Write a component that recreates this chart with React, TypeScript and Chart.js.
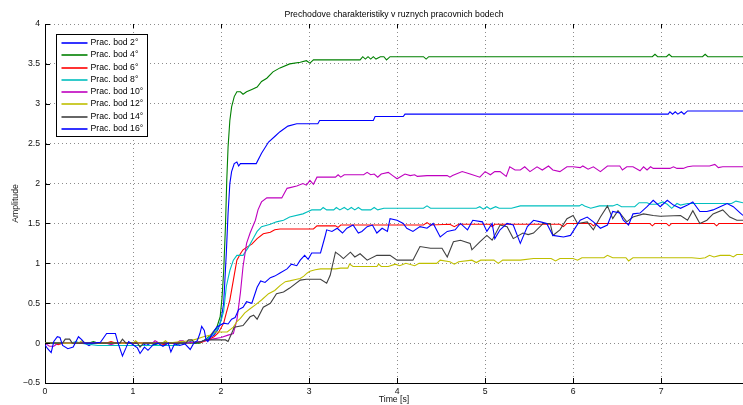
import React, { useEffect, useRef } from 'react';
import { Chart, registerables } from 'chart.js';

Chart.register(...registerables);

const TITLE = 'Prechodove charakteristiky v ruznych pracovnich bodech';
const X_LABEL = 'Time [s]';
const Y_LABEL = 'Amplitude';
const X_TICKS = [0, 1, 2, 3, 4, 5, 6, 7];
const Y_TICKS = [-0.5, 0, 0.5, 1, 1.5, 2, 2.5, 3, 3.5, 4];
const X_MIN = 0;
const X_MAX = 7.93;
const Y_MIN = -0.5;
const Y_MAX = 4;

const SERIES_LABELS = [
  'Prac. bod 2°',
  'Prac. bod 4°',
  'Prac. bod 6°',
  'Prac. bod 8°',
  'Prac. bod 10°',
  'Prac. bod 12°',
  'Prac. bod 14°',
  'Prac. bod 16°',
];
const SERIES_COLORS = ['#0000ff', '#008000', '#ff0000', '#00bfbf', '#bf00bf', '#bfbf00', '#404040', '#0000ff'];

// [time, amplitude]
const bod2: number[][] = [
  [0, 0], [0.45, 0], [0.5, -0.03], [0.55, 0], [1.1, 0], [1.15, -0.03], [1.2, 0], [1.6, 0], [1.65, 0.02], [1.7, 0],
  [1.78, 0.02], [1.85, 0.05], [1.92, 0.1], [1.97, 0.18], [2.0, 0.29], [2.03, 0.5], [2.06, 1.13], [2.08, 1.63],
  [2.1, 2.0], [2.12, 2.15], [2.15, 2.25], [2.18, 2.27], [2.2, 2.22], [2.22, 2.25], [2.4, 2.25], [2.46, 2.38],
  [2.54, 2.52], [2.61, 2.59], [2.67, 2.65], [2.76, 2.72], [2.86, 2.75], [3.1, 2.75], [3.12, 2.79], [3.73, 2.79],
  [3.75, 2.84], [4.07, 2.84], [4.09, 2.87], [7.08, 2.87], [7.1, 2.9], [7.13, 2.87], [7.16, 2.9], [7.19, 2.87],
  [7.23, 2.9], [7.26, 2.87], [7.3, 2.91], [7.93, 2.91],
];

const bod4: number[][] = [
  [0, 0], [0.5, 0], [0.55, 0.02], [0.6, 0], [1.2, 0], [1.25, -0.02], [1.3, 0], [1.76, 0], [1.82, 0.04], [1.88, 0.1],
  [1.95, 0.19], [1.99, 0.33], [2.01, 0.55], [2.03, 0.9], [2.05, 1.46], [2.065, 2.04], [2.08, 2.46], [2.1, 2.79],
  [2.12, 2.96], [2.15, 3.09], [2.18, 3.15], [2.22, 3.15], [2.25, 3.12], [2.29, 3.15], [2.35, 3.18], [2.41, 3.21],
  [2.46, 3.28], [2.52, 3.32], [2.59, 3.4], [2.67, 3.45], [2.78, 3.5], [2.9, 3.52], [2.97, 3.54], [3.01, 3.51],
  [3.05, 3.55], [3.58, 3.55], [3.61, 3.59], [3.64, 3.56], [3.67, 3.59], [3.7, 3.56], [3.73, 3.59], [3.76, 3.56],
  [3.81, 3.59], [3.85, 3.59], [3.88, 3.55], [3.92, 3.59], [4.3, 3.59], [4.33, 3.56], [4.36, 3.59], [6.9, 3.59],
  [6.93, 3.62], [6.96, 3.59], [7.06, 3.59], [7.09, 3.62], [7.12, 3.59], [7.47, 3.59], [7.5, 3.62], [7.53, 3.59],
  [7.93, 3.59],
];

const bod6: number[][] = [
  [0, 0], [0.1, 0], [0.15, -0.02], [0.2, 0], [0.7, 0], [0.75, 0.02], [0.8, 0], [1.3, 0], [1.35, -0.02], [1.4, 0],
  [1.78, 0.01], [1.85, 0.04], [1.92, 0.08], [1.97, 0.13], [2.03, 0.25], [2.06, 0.38], [2.1, 0.54], [2.14, 0.79],
  [2.18, 1.04], [2.22, 1.12], [2.25, 1.17], [2.29, 1.2], [2.35, 1.24], [2.41, 1.31], [2.48, 1.37], [2.56, 1.39],
  [2.61, 1.42], [2.67, 1.43], [3.05, 1.43], [3.09, 1.47], [3.3, 1.47], [3.33, 1.45], [3.36, 1.48], [4.3, 1.48],
  [4.34, 1.51], [4.38, 1.48], [4.6, 1.49], [4.65, 1.46], [4.7, 1.49], [5.05, 1.49], [5.08, 1.46], [5.11, 1.49],
  [5.85, 1.49], [5.89, 1.46], [5.93, 1.5], [6.2, 1.5], [6.23, 1.47], [6.26, 1.5], [6.87, 1.5], [6.9, 1.47],
  [6.93, 1.5], [7.06, 1.5], [7.09, 1.47], [7.12, 1.5], [7.6, 1.5], [7.63, 1.47], [7.66, 1.5], [7.93, 1.5],
];

const bod8: number[][] = [
  [0, 0], [0.3, 0], [0.35, 0.02], [0.4, 0], [0.6, -0.03], [1.5, -0.03], [1.55, 0], [1.78, 0.02], [1.85, 0.06],
  [1.92, 0.12], [1.97, 0.2], [2.0, 0.28], [2.03, 0.4], [2.06, 0.71], [2.1, 0.91], [2.14, 1.04], [2.18, 1.1],
  [2.25, 1.1], [2.31, 1.2], [2.37, 1.32], [2.41, 1.4], [2.46, 1.46], [2.56, 1.49], [2.63, 1.52], [2.71, 1.54],
  [2.78, 1.58], [2.93, 1.62], [2.99, 1.65], [3.03, 1.67], [3.13, 1.67], [3.16, 1.7], [3.2, 1.67], [3.28, 1.67],
  [3.31, 1.7], [3.35, 1.67], [3.4, 1.7], [3.44, 1.67], [3.48, 1.7], [3.52, 1.67], [3.56, 1.7], [3.6, 1.67],
  [3.7, 1.67], [3.74, 1.7], [3.78, 1.67], [3.85, 1.69], [4.3, 1.69], [4.34, 1.72], [4.38, 1.69], [4.9, 1.69],
  [4.94, 1.71], [4.98, 1.68], [5.02, 1.71], [5.06, 1.68], [5.12, 1.71], [5.16, 1.69], [5.3, 1.69], [5.4, 1.72],
  [6.07, 1.72], [6.1, 1.74], [6.13, 1.72], [6.2, 1.69], [6.3, 1.72], [6.45, 1.72], [6.5, 1.74], [6.55, 1.71],
  [6.7, 1.71], [6.75, 1.76], [6.84, 1.76], [6.88, 1.74], [6.95, 1.74], [7.02, 1.77], [7.07, 1.74], [7.12, 1.69],
  [7.18, 1.75], [7.22, 1.73], [7.3, 1.75], [7.8, 1.75], [7.85, 1.78], [7.93, 1.76],
];

const bod10: number[][] = [
  [0, 0], [0.05, -0.04], [0.1, -0.04], [0.15, 0], [0.7, 0], [0.75, -0.02], [0.8, 0], [1.22, 0], [1.25, 0.03],
  [1.3, 0], [1.5, 0], [1.53, 0.03], [1.57, 0.03], [1.6, 0], [1.78, 0.02], [1.9, 0.05], [2.0, 0.07], [2.08, 0.1],
  [2.14, 0.12], [2.18, 0.29], [2.22, 0.63], [2.25, 0.96], [2.29, 1.25], [2.33, 1.38], [2.39, 1.54], [2.42, 1.67],
  [2.46, 1.77], [2.52, 1.82], [2.69, 1.82], [2.75, 1.94], [2.86, 1.97], [2.93, 2.0], [2.97, 1.98], [3.01, 2.04],
  [3.05, 1.99], [3.09, 2.08], [3.3, 2.08], [3.33, 2.11], [3.36, 2.08], [3.4, 2.11], [3.62, 2.11], [3.66, 2.14],
  [3.7, 2.11], [3.74, 2.12], [3.78, 2.08], [3.82, 2.12], [3.9, 2.14], [3.95, 2.1], [4.0, 2.06], [4.09, 2.12],
  [4.15, 2.1], [4.2, 2.11], [4.23, 2.09], [4.34, 2.1], [4.57, 2.1], [4.6, 2.08], [4.63, 2.1], [4.74, 2.15],
  [4.83, 2.12], [4.94, 2.08], [5.0, 2.15], [5.06, 2.11], [5.11, 2.15], [5.17, 2.15], [5.24, 2.09], [5.28, 2.21],
  [5.34, 2.17], [5.4, 2.17], [5.45, 2.21], [5.51, 2.15], [5.59, 2.21], [5.65, 2.17], [5.72, 2.22], [5.77, 2.17],
  [5.85, 2.15], [5.93, 2.21], [6.0, 2.21], [6.08, 2.2], [6.11, 2.22], [6.17, 2.18], [6.23, 2.21], [6.31, 2.15],
  [6.39, 2.22], [6.53, 2.22], [6.56, 2.17], [6.61, 2.21], [6.68, 2.21], [6.76, 2.16], [6.8, 2.21], [6.84, 2.17],
  [6.88, 2.21], [6.91, 2.19], [7.1, 2.19], [7.14, 2.21], [7.18, 2.19], [7.25, 2.19], [7.3, 2.21], [7.36, 2.22],
  [7.55, 2.22], [7.61, 2.24], [7.65, 2.2], [7.7, 2.21], [7.93, 2.21],
];

const bod12: number[][] = [
  [0, 0], [0.38, 0], [0.42, 0.03], [0.46, 0], [1.0, 0], [1.03, 0.03], [1.06, 0], [1.33, 0], [1.37, 0.03], [1.4, 0],
  [1.55, 0.02], [1.65, 0.03], [1.72, 0.05], [1.8, 0.08], [1.88, 0.1], [1.91, 0.14], [2.07, 0.14], [2.14, 0.2],
  [2.18, 0.27], [2.22, 0.31], [2.27, 0.38], [2.33, 0.43], [2.39, 0.48], [2.46, 0.54], [2.54, 0.62], [2.61, 0.66],
  [2.67, 0.72], [2.73, 0.77], [2.78, 0.78], [2.86, 0.8], [2.9, 0.81], [2.94, 0.84], [2.98, 0.88], [3.01, 0.9],
  [3.07, 0.92], [3.13, 0.93], [3.3, 0.93], [3.36, 0.94], [3.44, 0.94], [3.46, 0.99], [3.5, 0.96], [3.77, 0.96],
  [3.79, 0.99], [3.82, 0.96], [3.9, 0.96], [3.98, 0.99], [4.03, 0.97], [4.1, 1.0], [4.2, 0.97], [4.25, 1.0],
  [4.45, 1.0], [4.49, 1.04], [4.6, 1.02], [4.65, 0.99], [4.7, 1.02], [4.85, 1.04], [4.9, 1.01], [4.95, 1.04],
  [5.1, 1.04], [5.15, 1.0], [5.2, 1.04], [5.4, 1.04], [5.55, 1.06], [5.75, 1.06], [5.8, 1.03], [5.85, 1.06],
  [6.0, 1.06], [6.05, 1.04], [6.1, 1.07], [6.35, 1.07], [6.39, 1.1], [6.45, 1.07], [6.6, 1.07], [6.63, 1.03],
  [6.68, 1.07], [7.35, 1.07], [7.44, 1.06], [7.5, 1.07], [7.55, 1.1], [7.6, 1.08], [7.67, 1.1], [7.78, 1.1],
  [7.82, 1.08], [7.86, 1.11], [7.93, 1.11],
];

const bod14: number[][] = [
  [0, 0], [0.2, 0], [0.23, 0.05], [0.28, 0.05], [0.31, 0], [0.85, 0], [0.88, 0.05], [0.92, 0], [1.05, 0],
  [1.08, -0.05], [1.12, 0], [1.6, 0], [1.63, 0.04], [1.67, 0.04], [1.7, 0], [1.78, 0.02], [1.82, 0.04],
  [2.05, 0.04], [2.08, 0.02], [2.12, 0.12], [2.15, 0.2], [2.25, 0.22], [2.33, 0.33], [2.37, 0.35], [2.41, 0.3],
  [2.48, 0.45], [2.56, 0.5], [2.63, 0.62], [2.71, 0.64], [2.78, 0.69], [2.9, 0.79], [2.97, 0.8], [3.13, 0.8],
  [3.2, 0.75], [3.24, 0.85], [3.3, 1.14], [3.35, 1.1], [3.39, 1.06], [3.47, 1.14], [3.52, 1.08], [3.58, 1.12],
  [3.66, 1.04], [3.77, 1.1], [3.92, 1.1], [4.0, 1.04], [4.18, 1.04], [4.26, 1.21], [4.38, 1.19], [4.51, 1.19],
  [4.57, 1.08], [4.64, 1.27], [4.72, 1.29], [4.83, 1.25], [4.85, 1.17], [4.94, 1.27], [5.02, 1.35], [5.08, 1.29],
  [5.17, 1.48], [5.25, 1.46], [5.32, 1.31], [5.43, 1.38], [5.49, 1.36], [5.55, 1.38], [5.66, 1.5], [5.74, 1.5],
  [5.77, 1.35], [5.85, 1.42], [5.93, 1.56], [6.0, 1.6], [6.05, 1.5], [6.16, 1.52], [6.23, 1.42], [6.31, 1.58],
  [6.39, 1.72], [6.45, 1.56], [6.51, 1.66], [6.61, 1.52], [6.68, 1.58], [6.8, 1.62], [6.91, 1.6], [6.99, 1.59],
  [7.22, 1.6], [7.3, 1.54], [7.36, 1.66], [7.44, 1.5], [7.52, 1.54], [7.59, 1.62], [7.7, 1.67], [7.78, 1.58],
  [7.86, 1.54], [7.93, 1.54],
];

const bod16: number[][] = [
  [0, -0.02], [0.03, -0.07], [0.07, -0.12], [0.1, 0.02], [0.14, 0.08], [0.17, 0.07], [0.2, -0.03], [0.26, -0.07],
  [0.32, -0.05], [0.38, 0.08], [0.42, 0.04], [0.45, 0.0], [0.55, 0.0], [0.63, 0.01], [0.7, 0.12], [0.8, 0.12],
  [0.83, 0.0], [0.88, -0.16], [0.92, -0.06], [0.95, 0.02], [1.0, -0.02], [1.05, -0.06], [1.08, -0.13],
  [1.13, -0.05], [1.17, -0.09], [1.23, -0.02], [1.28, 0.0], [1.34, -0.04], [1.4, 0.0], [1.43, -0.11],
  [1.47, -0.01], [1.53, -0.03], [1.59, -0.01], [1.65, -0.08], [1.69, 0.0], [1.73, 0.03], [1.76, 0.12],
  [1.78, 0.21], [1.81, 0.16], [1.83, 0.04], [1.85, 0.02], [1.89, 0.1], [1.95, 0.2], [2.03, 0.25], [2.08, 0.24],
  [2.12, 0.3], [2.16, 0.32], [2.2, 0.42], [2.25, 0.45], [2.29, 0.52], [2.35, 0.5], [2.41, 0.7], [2.45, 0.78],
  [2.5, 0.76], [2.56, 0.82], [2.61, 0.84], [2.67, 0.88], [2.75, 0.93], [2.8, 0.99], [2.86, 0.97], [2.9, 1.04],
  [2.95, 1.1], [2.99, 1.05], [3.03, 1.13], [3.13, 1.13], [3.18, 1.33], [3.2, 1.42], [3.26, 1.4], [3.32, 1.44],
  [3.38, 1.38], [3.43, 1.44], [3.5, 1.48], [3.56, 1.38], [3.6, 1.4], [3.66, 1.46], [3.72, 1.48], [3.77, 1.38],
  [3.83, 1.44], [3.89, 1.4], [3.92, 1.56], [4.0, 1.54], [4.07, 1.5], [4.11, 1.44], [4.18, 1.4], [4.26, 1.46],
  [4.34, 1.44], [4.41, 1.5], [4.49, 1.33], [4.57, 1.4], [4.66, 1.42], [4.72, 1.5], [4.8, 1.42], [4.86, 1.54],
  [4.97, 1.52], [5.02, 1.4], [5.08, 1.5], [5.11, 1.31], [5.17, 1.42], [5.25, 1.5], [5.32, 1.48], [5.4, 1.25],
  [5.48, 1.46], [5.55, 1.54], [5.63, 1.52], [5.7, 1.5], [5.77, 1.35], [5.89, 1.33], [5.97, 1.35], [6.08, 1.54],
  [6.16, 1.58], [6.23, 1.52], [6.31, 1.44], [6.39, 1.48], [6.45, 1.65], [6.53, 1.63], [6.57, 1.54], [6.63, 1.48],
  [6.68, 1.62], [6.76, 1.63], [6.84, 1.71], [6.91, 1.79], [6.99, 1.71], [7.07, 1.79], [7.14, 1.73], [7.22, 1.69],
  [7.3, 1.73], [7.36, 1.77], [7.44, 1.65], [7.52, 1.65], [7.59, 1.67], [7.67, 1.71], [7.75, 1.75], [7.82, 1.71],
  [7.9, 1.63], [7.93, 1.6],
];

const SERIES = [bod2, bod4, bod6, bod8, bod10, bod12, bod14, bod16];

const FONT_FAMILY = '"Liberation Sans", Arial, Helvetica, sans-serif';
const FONT_SIZE = 8.7;

const overlayPlugin = {
  id: 'overlay',
  afterDraw(chart: any) {
    const { ctx, chartArea: ca, scales } = chart;
    const xs = scales.x;
    const ys = scales.y;
    ctx.save();
    // inward tick marks
    ctx.strokeStyle = '#000';
    ctx.lineWidth = 1;
    ctx.beginPath();
    Y_TICKS.forEach((v) => {
      const py = Math.round(ys.getPixelForValue(v)) + 0.5;
      ctx.moveTo(ca.left, py);
      ctx.lineTo(ca.left + 5, py);
    });
    X_TICKS.forEach((v) => {
      const px = Math.round(xs.getPixelForValue(v)) + 0.5;
      ctx.moveTo(px, ca.bottom);
      ctx.lineTo(px, ca.bottom - 5);
      ctx.moveTo(px, ca.top);
      ctx.lineTo(px, ca.top + 4);
    });
    ctx.stroke();

    // title
    ctx.fillStyle = '#000';
    ctx.font = `${FONT_SIZE}px ${FONT_FAMILY}`;
    ctx.textAlign = 'center';
    ctx.textBaseline = 'middle';
    ctx.fillText(TITLE, (ca.left + ca.right) / 2, 15);

    // legend box
    const lx = 56.5;
    const ly = 34.5;
    const lw = 91;
    const lh = 102;
    ctx.fillStyle = '#fff';
    ctx.fillRect(lx, ly, lw, lh);
    ctx.strokeStyle = '#000';
    ctx.lineWidth = 1;
    ctx.strokeRect(lx, ly, lw, lh);
    ctx.textAlign = 'left';
    chart.data.datasets.forEach((ds: any, i: number) => {
      const yy = Math.round(ly + 8.5 + i * 12.25);
      ctx.strokeStyle = ds.borderColor;
      ctx.lineWidth = 1.6;
      ctx.beginPath();
      ctx.moveTo(lx + 5, yy);
      ctx.lineTo(lx + 31, yy);
      ctx.stroke();
      ctx.fillStyle = '#000';
      ctx.fillText(ds.label, lx + 34, yy);
    });
    ctx.restore();
  },
};

export default function App() {
  const canvasRef = useRef<HTMLCanvasElement | null>(null);

  useEffect(() => {
    document.body.style.margin = '0';
    const canvas = canvasRef.current;
    if (!canvas) return;
    const chart = new Chart(canvas, {
      type: 'line',
      data: {
        datasets: SERIES.map((s, i) => ({
          label: SERIES_LABELS[i],
          data: s.map(([t, v]) => ({ x: t, y: v })),
          borderColor: SERIES_COLORS[i],
          backgroundColor: SERIES_COLORS[i],
          borderWidth: 1.1,
          pointRadius: 0,
          fill: false,
          tension: 0,
          order: SERIES.length - i,
        })),
      },
      options: {
        responsive: false,
        animation: false,
        devicePixelRatio: 1,
        layout: { padding: { top: 24, right: 0, bottom: 0, left: 0 } },
        plugins: {
          legend: { display: false },
          tooltip: { enabled: false },
          title: { display: false },
        },
        scales: {
          x: {
            type: 'linear',
            min: X_MIN,
            max: X_MAX,
            afterFit: (s: any) => {
              s.height = 22;
            },
            ticks: {
              stepSize: 1,
              includeBounds: false,
              autoSkip: false,
              maxRotation: 0,
              padding: 3,
              color: '#111',
              font: { family: FONT_FAMILY, size: FONT_SIZE },
            },
            grid: { color: '#8c8c8c', lineWidth: 1, drawTicks: false },
            border: { display: true, color: '#000', width: 1, dash: [1, 3] },
            title: {
              display: true,
              text: X_LABEL,
              color: '#111',
              font: { family: FONT_FAMILY, size: FONT_SIZE },
              padding: { top: 0, bottom: 0 },
            },
          },
          y: {
            type: 'linear',
            min: Y_MIN,
            max: Y_MAX,
            afterFit: (s: any) => {
              s.width = 45;
            },
            ticks: {
              stepSize: 0.5,
              includeBounds: false,
              autoSkip: false,
              padding: 5,
              color: '#111',
              font: { family: FONT_FAMILY, size: FONT_SIZE },
              callback: (v: any) => {
                const n = Number(Number(v).toFixed(2));
                return n < 0 ? '\u2212' + String(Math.abs(n)) : String(n);
              },
            },
            grid: { color: '#8c8c8c', lineWidth: 1, drawTicks: false },
            border: { display: true, color: '#000', width: 1, dash: [1, 3] },
            title: {
              display: true,
              text: Y_LABEL,
              color: '#111',
              font: { family: FONT_FAMILY, size: FONT_SIZE },
              padding: { top: 10, bottom: 0 },
            },
          },
        },
      },
      plugins: [overlayPlugin],
    });
    return () => chart.destroy();
  }, []);

  return (
    <div style={{ width: 743, height: 405, position: 'relative', background: '#fff' }}>
      <canvas ref={canvasRef} width={743} height={405} style={{ display: 'block' }} />
    </div>
  );
}
